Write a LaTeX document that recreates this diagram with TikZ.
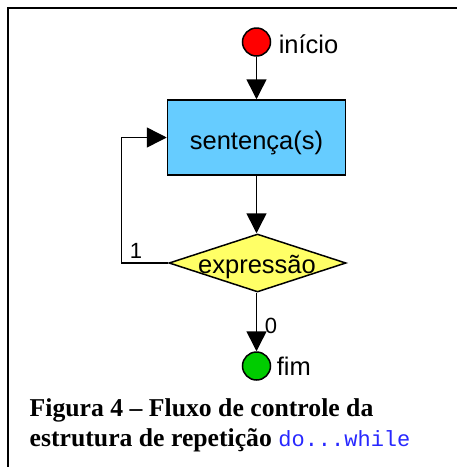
\documentclass[tikz,border=0pt]{standalone}
\usepackage{fontspec}
\setmainfont{Liberation Serif}
\setsansfont{Liberation Sans}
\setmonofont{Liberation Mono}
\usetikzlibrary{arrows.meta,shapes.geometric}
\definecolor{boxblue}{RGB}{102,204,255}
\definecolor{dyellow}{RGB}{255,255,102}
\definecolor{startred}{RGB}{255,0,0}
\definecolor{endgreen}{RGB}{0,204,0}
\definecolor{codeblue}{RGB}{40,40,255}
\begin{document}
\begin{tikzpicture}[x=1pt,y=-1pt, line width=1.5pt,
  flow/.style={-{Triangle[length=20pt,width=20pt]}},
  sans/.style={font=\sffamily\fontsize{25.5}{30}\selectfont, inner sep=0pt},
  digit/.style={font=\sffamily\fontsize{22}{26}\selectfont, inner sep=0pt},
  term/.style={circle, draw, minimum size=28pt, inner sep=0pt},
  stmt/.style={draw, fill=boxblue, minimum width=178pt, minimum height=75pt, inner sep=0pt},
  cond/.style={diamond, draw, fill=dyellow, minimum width=177pt, minimum height=58pt, inner sep=0pt},
  capt/.style={font=\bfseries\fontsize{25.7}{30}\selectfont, anchor=base west, inner sep=0pt}
 ]
\useasboundingbox (0,0) rectangle (457,467);
\draw[line width=2pt] (7.8,470) -- (7.8,7.8) -- (460,7.8);

\node[term, fill=startred] (s) at (256.5,42) {};
\node[stmt] (b) at (256.5,137.5) {};
\node[sans, anchor=base] (bt) at (256.5,149) {sentença(s)};
\node[cond] (d) at (257.5,263) {};
\node[sans, anchor=base] (dt) at (257,273) {expressão};
\node[term, fill=endgreen] (e) at (256.5,366) {};
\node[sans, anchor=base west] (st) at (278,53) {início};
\node[sans, anchor=base west] (et) at (276,375) {fim};
\node[digit, anchor=base] (one) at (136,258) {1};
\node[digit, anchor=base] (zero) at (271,333) {0};
\coordinate (lp) at (121.5,263);

\draw[flow] (s.south) -- (b.north);
\draw[flow] (b.south) -- (d.north -| b.south);
\draw[flow] (d.south -| e.north) -- (e.north);
\draw[flow] (d.west) -- (lp) |- (b.west);

\node[capt] (c1) at (29,416.5) {Figura 4 – Fluxo de controle da};
\node[capt] (c2) at (29,446) {estrutura de repetição {\mdseries\ttfamily\fontsize{22}{26}\selectfont\color{codeblue}do...while}};
\end{tikzpicture}
\end{document}
